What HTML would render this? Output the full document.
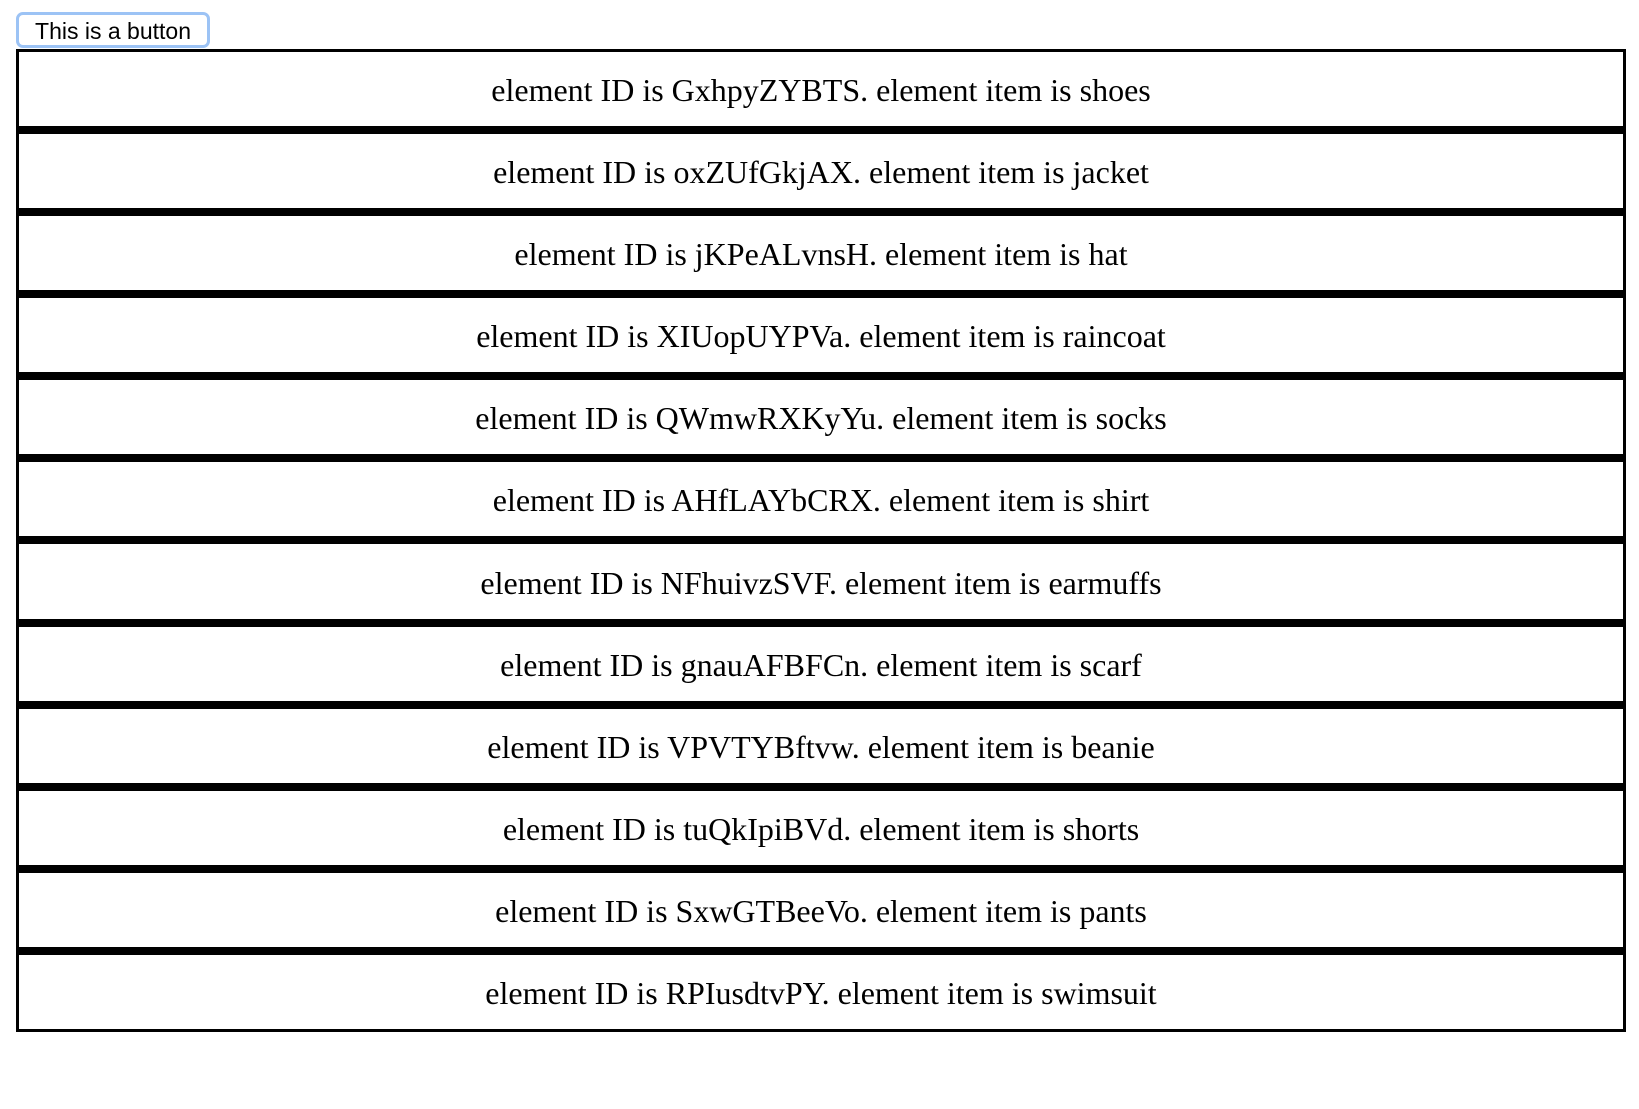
<!DOCTYPE html>
<html><head><meta charset="utf-8"><style>
body{margin:0;width:1639px;height:1109px;background:#fff;position:relative;overflow:hidden}
.btn{position:absolute;left:16px;top:12px;width:194px;height:36px;box-sizing:border-box;border:3px solid #9cc3f5;border-radius:7px;background:#fff;font:23px "Liberation Sans",sans-serif;color:#000;text-align:center;line-height:32px}
.box{position:absolute;left:16px;top:49px;width:1610px;height:983px;box-sizing:border-box;border:3px solid #000;background:#000;display:flex;flex-direction:column;gap:8px}
.row{flex:1;background:#fff;display:flex;align-items:center;justify-content:center;font:32px "Liberation Serif",serif;color:#000;padding-top:3px;box-sizing:border-box}
</style></head><body>
<div class="btn">This is a button</div>
<div class="box">
<div class="row">element ID is GxhpyZYBTS. element item is shoes</div>
<div class="row">element ID is oxZUfGkjAX. element item is jacket</div>
<div class="row">element ID is jKPeALvnsH. element item is hat</div>
<div class="row">element ID is XIUopUYPVa. element item is raincoat</div>
<div class="row">element ID is QWmwRXKyYu. element item is socks</div>
<div class="row">element ID is AHfLAYbCRX. element item is shirt</div>
<div class="row">element ID is NFhuivzSVF. element item is earmuffs</div>
<div class="row">element ID is gnauAFBFCn. element item is scarf</div>
<div class="row">element ID is VPVTYBftvw. element item is beanie</div>
<div class="row">element ID is tuQkIpiBVd. element item is shorts</div>
<div class="row">element ID is SxwGTBeeVo. element item is pants</div>
<div class="row">element ID is RPIusdtvPY. element item is swimsuit</div>
</div>
</body></html>
